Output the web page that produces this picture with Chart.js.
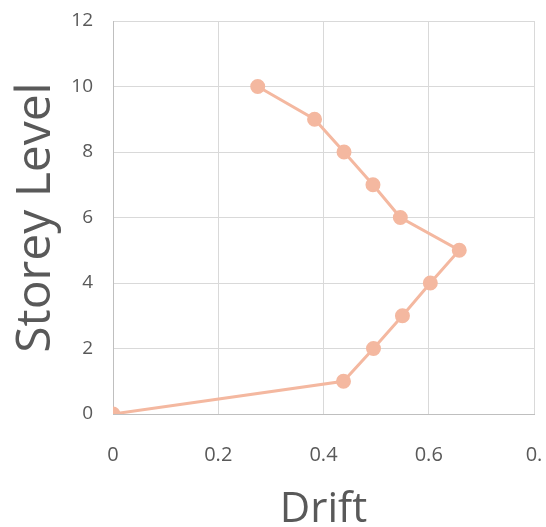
<!DOCTYPE html>
<html lang="en">
<head>
  <meta charset="UTF-8"/>
  <title>Storey Drift</title>
  <script src="https://cdn.jsdelivr.net/npm/chart.js"></script>
  <style>
    html, body { margin: 0; padding: 0; background: #fff; }
    #wrap { width: 546px; height: 527px; }
  </style>
</head>
<body>
  <div id="wrap"><canvas id="driftChart" width="546" height="527"></canvas></div>
  <script>
    // storey levels and drift
    const storeys = [0, 1, 2, 3, 4, 5, 6, 7, 8, 9, 10];
    const drift = [0, 0.438, 0.495, 0.55, 0.603, 0.658, 0.546, 0.494, 0.439, 0.383, 0.275];
    const xTickLabels = ["0", "0.2", "0.4", "0.6", "0."];

    const textColor = "#595959";
    const gridColor = "#d9d9d9";
    const lineColor = "#f4b8a0";

    // keep the plot box where it sits in the picture
    function noPad(s) {
      s.paddingLeft = 0;
      s.paddingRight = 0;
      s.paddingTop = 0;
      s.paddingBottom = 0;
    }

    new Chart(document.getElementById("driftChart"), {
      type: "scatter",
      data: {
        datasets: [{
          data: storeys.map((s, i) => ({ x: drift[i], y: s })),
          showLine: true,
          borderColor: lineColor,
          backgroundColor: lineColor,
          borderWidth: 3,
          pointRadius: 6,
          pointHoverRadius: 6
        }]
      },
      options: {
        responsive: false,
        animation: false,
        layout: { padding: { top: 21, right: 12, left: 0, bottom: 0 } },
        plugins: { legend: { display: false }, tooltip: { enabled: false } },
        scales: {
          x: {
            type: "linear",
            min: 0,
            max: 0.8,
            afterFit: s => { s.height = 113; noPad(s); },
            ticks: {
              stepSize: 0.2,
              padding: 29,
              color: textColor,
              font: { family: "Open Sans", size: 20 },
              callback: (v, i) => xTickLabels[i]
            },
            grid: { color: gridColor, drawTicks: false },
            border: { color: "#bfbfbf" },
            title: {
              display: true,
              text: "Drift",
              color: textColor,
              font: { family: "Open Sans", size: 42 },
              padding: { top: 0, bottom: -8 }
            }
          },
          y: {
            min: 0,
            max: 12,
            afterFit: s => { s.width = 113; noPad(s); },
            ticks: {
              stepSize: 2,
              padding: 20,
              color: textColor,
              font: { family: "Open Sans", size: 19 }
            },
            grid: { color: gridColor, drawTicks: false },
            border: { color: "#bfbfbf" },
            title: {
              display: true,
              text: "Storey Level",
              color: textColor,
              font: { family: "Open Sans", size: 48 },
              padding: { top: 8, bottom: 0 }
            }
          }
        }
      }
    });
  </script>
</body>
</html>
